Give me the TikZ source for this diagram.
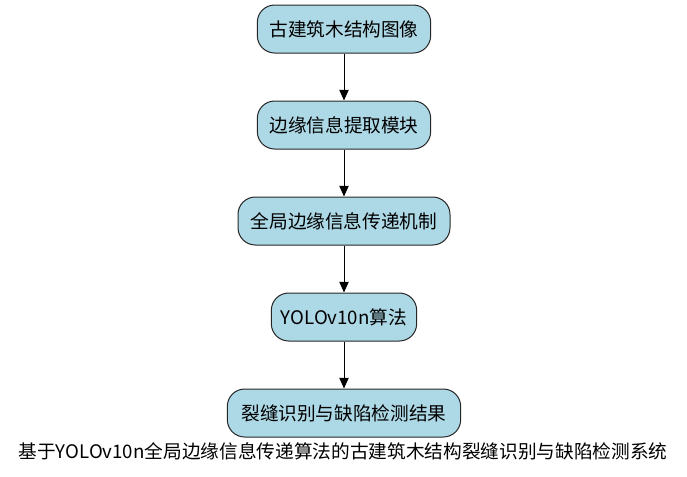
\documentclass[tikz,border=0pt]{standalone}
\usepackage{fontspec}
\setmainfont{Noto Sans CJK SC}
\usepackage{tikz}
\usetikzlibrary{arrows.meta}

\tikzset{
    stage/.style={draw=black!85, line width=0.75pt, fill=lightblue, rounded corners=13pt,
        minimum height=36pt, inner sep=0pt, font=\fontsize{14pt}{16pt}\selectfont},
    flow/.style={line width=0.75pt, -{Triangle[length=8pt,width=7pt]}}
}
\definecolor{lightblue}{HTML}{ADD8E6}

\begin{document}
\begin{tikzpicture}[x=0.75pt, y=-0.75pt]
    \useasboundingbox (0,0) rectangle (687,476);
    \node[stage, minimum width=130pt] (img) at (344,29) {古建筑木结构图像};
    \node[stage, minimum width=130pt] (edge) at (344,125) {边缘信息提取模块};
    \node[stage, minimum width=159pt] (glob) at (344,221) {全局边缘信息传递机制};
    \node[stage, minimum width=109pt] (yolo) at (344,317) {YOLOv10n算法};
    \node[stage, minimum width=175pt] (res) at (344,413) {裂缝识别与缺陷检测结果};
    \foreach \a/\b in {img/edge, edge/glob, glob/yolo, yolo/res}
        \draw[flow] (\a) -- (\b);
    \node[font=\fontsize{14pt}{16pt}\selectfont] (title) at (343,451)
        {基于YOLOv10n全局边缘信息传递算法的古建筑木结构裂缝识别与缺陷检测系统};
\end{tikzpicture}
\end{document}
